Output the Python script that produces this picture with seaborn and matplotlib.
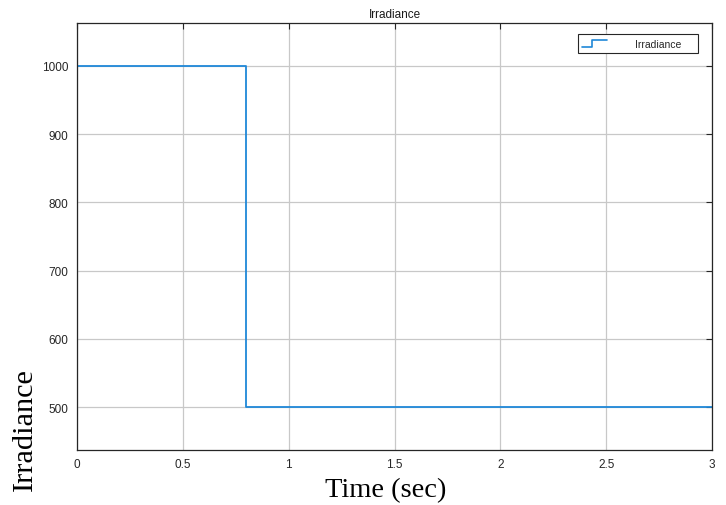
import matplotlib
matplotlib.use("Agg")
import matplotlib.pyplot as plt
import seaborn as sns
import pandas as pd
from matplotlib.legend_handler import HandlerLine2D
from matplotlib.lines import Line2D

# data
time_sec = [0.0, 0.8, 3.0]
irradiance = [1000, 500, 500]
x_ticks = [0, 0.5, 1, 1.5, 2, 2.5, 3]
x_tick_labels = ["0", "0.5", "1", "1.5", "2", "2.5", "3"]
y_ticks = [500, 600, 700, 800, 900, 1000]

sns.set_theme(style="white")
plt.rcParams['font.family'] = ['Liberation Sans', 'DejaVu Sans']

line_color = '#1f88d8'

fig = plt.figure(figsize=(7.26, 5.06), dpi=100)
ax = fig.add_axes([77/726, 1-451/506, (712-77)/726, (451-24)/506])

df = pd.DataFrame({"Time": time_sec, "Irradiance": irradiance})
sns.lineplot(data=df, x="Time", y="Irradiance", drawstyle="steps-post",
             color=line_color, linewidth=1.3, ax=ax, label="Irradiance", sort=False)

ax.set_xlim(0, 3)
ax.set_ylim(437.5, 1062.5)
ax.set_xticks(x_ticks)
ax.set_xticklabels(x_tick_labels)
ax.set_yticks(y_ticks)
ax.grid(True, color='#c8c8c8', linewidth=0.9)
ax.tick_params(direction='in', length=4, width=0.8, colors='#262626',
               labelsize=8.5, top=True, right=True, pad=6)
for s in ax.spines.values():
    s.set_color('#262626')
    s.set_linewidth(0.9)
ax.set_xlabel("")
ax.set_ylabel("")
ax.set_title("Irradiance", fontsize=8.5, color='#1a1a1a', pad=4)


class StepHandler(HandlerLine2D):
    def create_artists(self, legend, orig_handle, xdescent, ydescent,
                       width, height, fontsize, trans):
        y0 = height * -0.05 - ydescent
        y1 = height * 0.85 - ydescent
        xs = [-xdescent, -xdescent + width * 0.4, -xdescent + width * 0.4, -xdescent + width]
        ys = [y0, y0, y1, y1]
        ln = Line2D(xs, ys, color=orig_handle.get_color(), linewidth=1.2)
        ln.set_transform(trans)
        return [ln]


handle = Line2D([], [], color=line_color)
leg = ax.legend([handle], ["Irradiance    "], handler_map={Line2D: StepHandler()},
                loc='upper right', bbox_to_anchor=((698-77)/635, (451-35)/427), fontsize=7.5,
                frameon=True, fancybox=False, framealpha=1, edgecolor='#262626',
                handlelength=2.4, handletextpad=2.7, borderpad=0.45,
                borderaxespad=0)
leg.get_frame().set_linewidth(0.8)

fig.text(386/726, 1-491/506, "Time (sec)", ha='center', va='center',
         fontsize=20.5, family='Liberation Serif', color='black')
fig.text(25/726, 1-430/506, "Irradiance", ha='center', va='center',
         rotation=90, fontsize=21.8, family='Liberation Serif', color='black')

fig.savefig("out.png", dpi=100, facecolor='white')
